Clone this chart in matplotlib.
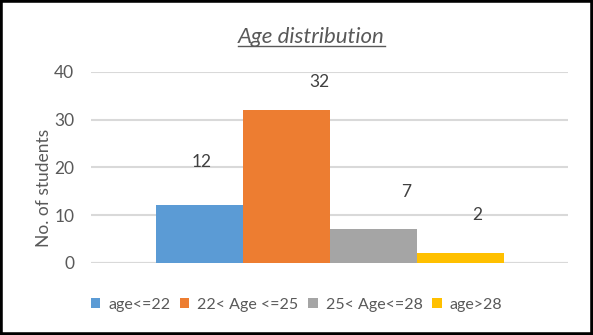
import matplotlib.pyplot as plt
from matplotlib.patches import Rectangle

plt.rcParams['font.family'] = ['Lato', 'DejaVu Sans']

groups = ['age<=22', '22< Age <=25', '25< Age<=28', 'age>28']
counts = [12, 32, 7, 2]
colors = ['#5B9BD5', '#ED7D31', '#A5A5A5', '#FFC000']
# where each data label sits relative to its bar top (x in points, y in data units)
label_dx = [2, 24, 24, 12]
label_dy = [9.2, 5.8, 7.9, 8.0]

fig = plt.figure(figsize=(5.93, 3.35), dpi=100)
ax = fig.add_axes([0.1535, 0.2158, 0.8045, 0.5693])

w = 0.1824
for i, (g, c, col) in enumerate(zip(groups, counts, colors)):
    x = (i - 1.5) * w
    ax.bar(x, c, width=w, color=col, label=g, zorder=2)
    ax.annotate(str(c), (x, c + label_dy[i]), xytext=(label_dx[i], 0),
                textcoords='offset points', ha='center', va='center',
                fontsize=12.5, color='#404040')

ax.set_xlim(-0.5, 0.5)
ax.set_ylim(0, 40)
ax.set_yticks([0, 10, 20, 30, 40])
ax.set_xticks([])
ax.grid(axis='y', color='#D9D9D9', linewidth=1.5, zorder=0)
for s in ax.spines.values():
    s.set_visible(False)
ax.axhline(0, color='#D9D9D9', linewidth=1.5, zorder=1)
ax.tick_params(axis='y', length=0, pad=12, labelsize=12.5, labelcolor='#595959')
ax.set_ylabel('No. of students', fontsize=12.5, color='#595959', va='center')
ax.yaxis.set_label_coords(-0.099, 0.39)

title = fig.text(0.525, 0.89, 'Age distribution', ha='center', va='center',
                 fontsize=16, style='italic', color='#595959')
# underline the title using its drawn extent
fig.canvas.draw()
bb = title.get_window_extent().transformed(fig.transFigure.inverted())
fig.add_artist(plt.Line2D([bb.x0, bb.x1], [bb.y0 + 0.004, bb.y0 + 0.004],
                          color='#595959', linewidth=1, transform=fig.transFigure))

ax.legend(loc='center', bbox_to_anchor=(0.5, 0.09), bbox_transform=fig.transFigure,
          ncol=4, frameon=False, fontsize=11.5, handlelength=0.6, handleheight=0.6,
          handletextpad=0.5, columnspacing=0.6, labelcolor='#595959')

# black frame around the whole figure
fig.add_artist(Rectangle((0, 0), 1, 1, transform=fig.transFigure, fill=False,
                         edgecolor='black', linewidth=4))

fig.savefig('out.png', dpi=100)
